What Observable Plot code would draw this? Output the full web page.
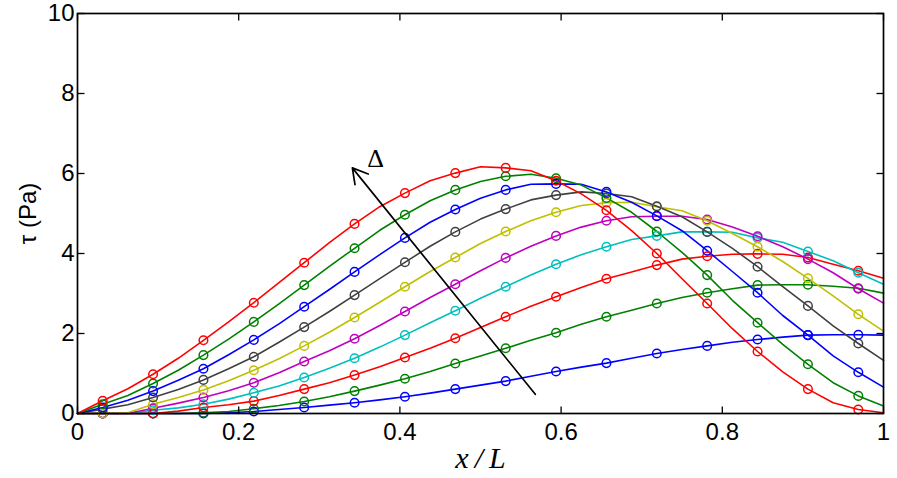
<!DOCTYPE html>
<html>
<head>
<meta charset="utf-8">
<script src="https://cdn.jsdelivr.net/npm/d3@7"></script>
<script src="https://cdn.jsdelivr.net/npm/@observablehq/plot@0.6"></script>
<style>
  html, body { margin: 0; padding: 0; background: #fff; }
  #chart { width: 897px; height: 478px; }
</style>
</head>
<body>
<div id="chart"></div>
<script>
// x positions of line vertices: i/32, i = 0..32 (markers at odd i)
const xPos = d3.range(33).map(i => i / 32);

const tau1  = [0,0,0,0,0,0,0.02,0.05,0.10,0.15,0.21,0.27,0.34,0.42,0.51,0.61,0.71,0.81,0.93,1.05,1.16,1.26,1.38,1.50,1.60,1.69,1.78,1.85,1.91,1.96,1.97,1.97,1.96];
const tau2  = [0,0,0,0,0,0.02,0.05,0.12,0.20,0.30,0.42,0.56,0.71,0.87,1.05,1.25,1.44,1.63,1.83,2.02,2.23,2.42,2.58,2.75,2.90,3.02,3.12,3.21,3.22,3.22,3.18,3.13,3.01];
const tau3  = [0,0,0,0,0.06,0.15,0.22,0.31,0.45,0.61,0.77,0.96,1.17,1.40,1.63,1.88,2.15,2.42,2.68,2.92,3.15,3.37,3.54,3.71,3.86,3.93,3.98,3.99,3.98,3.90,3.73,3.57,3.38];
const tau4  = [0,0,0,0.08,0.14,0.23,0.36,0.52,0.69,0.90,1.13,1.38,1.66,1.96,2.27,2.57,2.88,3.17,3.46,3.73,3.97,4.17,4.35,4.44,4.54,4.54,4.53,4.39,4.28,4.05,3.82,3.52,3.23];
const tau5  = [0,0,0,0.13,0.26,0.40,0.57,0.77,1.02,1.30,1.57,1.87,2.20,2.55,2.90,3.23,3.57,3.89,4.18,4.44,4.66,4.82,4.92,4.93,4.93,4.85,4.66,4.43,4.17,3.86,3.52,3.12,2.76];
const tau6  = [0,0,0.02,0.23,0.40,0.59,0.82,1.08,1.37,1.69,2.03,2.40,2.78,3.17,3.55,3.90,4.25,4.55,4.82,5.03,5.20,5.27,5.28,5.17,5.07,4.82,4.50,4.17,3.80,3.38,2.94,2.48,2.06];
const tau7  = [0,0.11,0.22,0.40,0.60,0.84,1.12,1.42,1.78,2.16,2.55,2.96,3.37,3.78,4.18,4.54,4.86,5.11,5.34,5.46,5.54,5.50,5.42,5.18,4.92,4.54,4.13,3.67,3.17,2.69,2.19,1.75,1.33];
const tau8  = [0,0.15,0.33,0.56,0.83,1.12,1.47,1.84,2.24,2.67,3.10,3.54,3.97,4.39,4.78,5.10,5.38,5.59,5.73,5.74,5.73,5.54,5.28,4.94,4.57,4.07,3.55,3.02,2.45,1.96,1.44,1.03,0.66];
const tau9  = [0,0.23,0.45,0.75,1.08,1.46,1.86,2.29,2.74,3.21,3.68,4.13,4.58,4.97,5.32,5.59,5.80,5.93,5.98,5.88,5.71,5.39,5.03,4.55,4.03,3.46,2.83,2.27,1.73,1.23,0.77,0.44,0.19];
const tau10 = [0,0.32,0.62,0.98,1.38,1.83,2.29,2.77,3.27,3.77,4.27,4.74,5.17,5.51,5.82,6.01,6.17,6.14,6.07,5.82,5.49,5.08,4.57,4.00,3.37,2.75,2.12,1.55,1.04,0.61,0.27,0.10,0.02];

const seriesValues = [tau1, tau2, tau3, tau4, tau5, tau6, tau7, tau8, tau9, tau10];
const seriesColors = ["#0000FF", "#008000", "#FF0000", "#00BFBF", "#BF00BF", "#BFBF00", "#404040", "#0000FF", "#008000", "#FF0000"];

const xTicks = [0, 0.2, 0.4, 0.6, 0.8, 1];
const yTicks = [0, 2, 4, 6, 8, 10];

// annotation arrow (data coordinates)
const arrowStart = [0.568, 0.48];
const arrowEnd = [0.341, 6.14];
const deltaLabel = [0.370, 6.36, "Δ"];

const rows = [];
seriesValues.forEach((vals, s) => {
  vals.forEach((v, i) => rows.push({s, x: xPos[i], y: v, marker: i % 2 === 1}));
});

const lineMarks = seriesValues.map((vals, s) =>
  Plot.line(rows.filter(d => d.s === s), {x: "x", y: "y", stroke: seriesColors[s], strokeWidth: 1.6})
);
const dotMarks = seriesValues.map((vals, s) =>
  Plot.dot(rows.filter(d => d.s === s && d.marker), {x: "x", y: "y", r: 4.3, stroke: seriesColors[s], strokeWidth: 1.5, fill: "none"})
);

// inward tick shapes (7px)
const tickLen = 7;
const tickUp    = {draw(c) { c.moveTo(0, 0); c.lineTo(0, -tickLen); }};
const tickDown  = {draw(c) { c.moveTo(0, 0); c.lineTo(0, tickLen); }};
const tickRight = {draw(c) { c.moveTo(0, 0); c.lineTo(tickLen, 0); }};
const tickLeft  = {draw(c) { c.moveTo(0, 0); c.lineTo(-tickLen, 0); }};
const yMin = 0, yMax = 10, xMin = 0, xMax = 1;

const chart = Plot.plot({
  width: 897,
  height: 478,
  marginLeft: 77,
  marginRight: 14,
  marginTop: 13,
  marginBottom: 65,
  style: {fontFamily: "Liberation Sans, Arial, sans-serif", background: "#fff", color: "#000"},
  x: {domain: [xMin, xMax]},
  y: {domain: [yMin, yMax]},
  marks: [
    ...lineMarks,
    ...dotMarks,
    Plot.arrow([0], {x1: () => arrowStart[0], y1: () => arrowStart[1], x2: () => arrowEnd[0], y2: () => arrowEnd[1], stroke: "black", strokeWidth: 1.7, headLength: 15}),
    Plot.text([deltaLabel], {x: d => d[0], y: d => d[1], text: d => d[2], fontSize: 26, fontFamily: "Liberation Serif, serif", fill: "black"}),
    // tick labels
    Plot.axisX(xTicks, {anchor: "bottom", tickSize: 0, tickPadding: 9, fontSize: 24, label: null, tickFormat: d => String(d)}),
    Plot.axisY(yTicks, {anchor: "left", tickSize: 0, tickPadding: 3, fontSize: 24, label: null, tickFormat: d => String(d)}),
    // inward ticks on all four sides
    Plot.dot(xTicks, {x: d => d, y: () => yMin, symbol: tickUp, stroke: "black", strokeWidth: 1.3, fill: "none"}),
    Plot.dot(xTicks, {x: d => d, y: () => yMax, symbol: tickDown, stroke: "black", strokeWidth: 1.3, fill: "none"}),
    Plot.dot(yTicks, {y: d => d, x: () => xMin, symbol: tickRight, stroke: "black", strokeWidth: 1.3, fill: "none"}),
    Plot.dot(yTicks, {y: d => d, x: () => xMax, symbol: tickLeft, stroke: "black", strokeWidth: 1.3, fill: "none"}),
    Plot.frame({stroke: "black", strokeWidth: 1.7}),
    // axis titles
    Plot.text(["x\u2009/\u2009L"], {frameAnchor: "bottom", dy: 45, lineAnchor: "middle", textAnchor: "middle", fontSize: 30, fontStyle: "italic", fontFamily: "Liberation Serif, serif", fill: "black"}),
    Plot.text(["τ (Pa)"], {frameAnchor: "left", dx: -49, rotate: -90, textAnchor: "middle", lineAnchor: "middle", fontSize: 24, fill: "black"})
  ]
});
document.getElementById("chart").appendChild(chart);
</script>
</body>
</html>
